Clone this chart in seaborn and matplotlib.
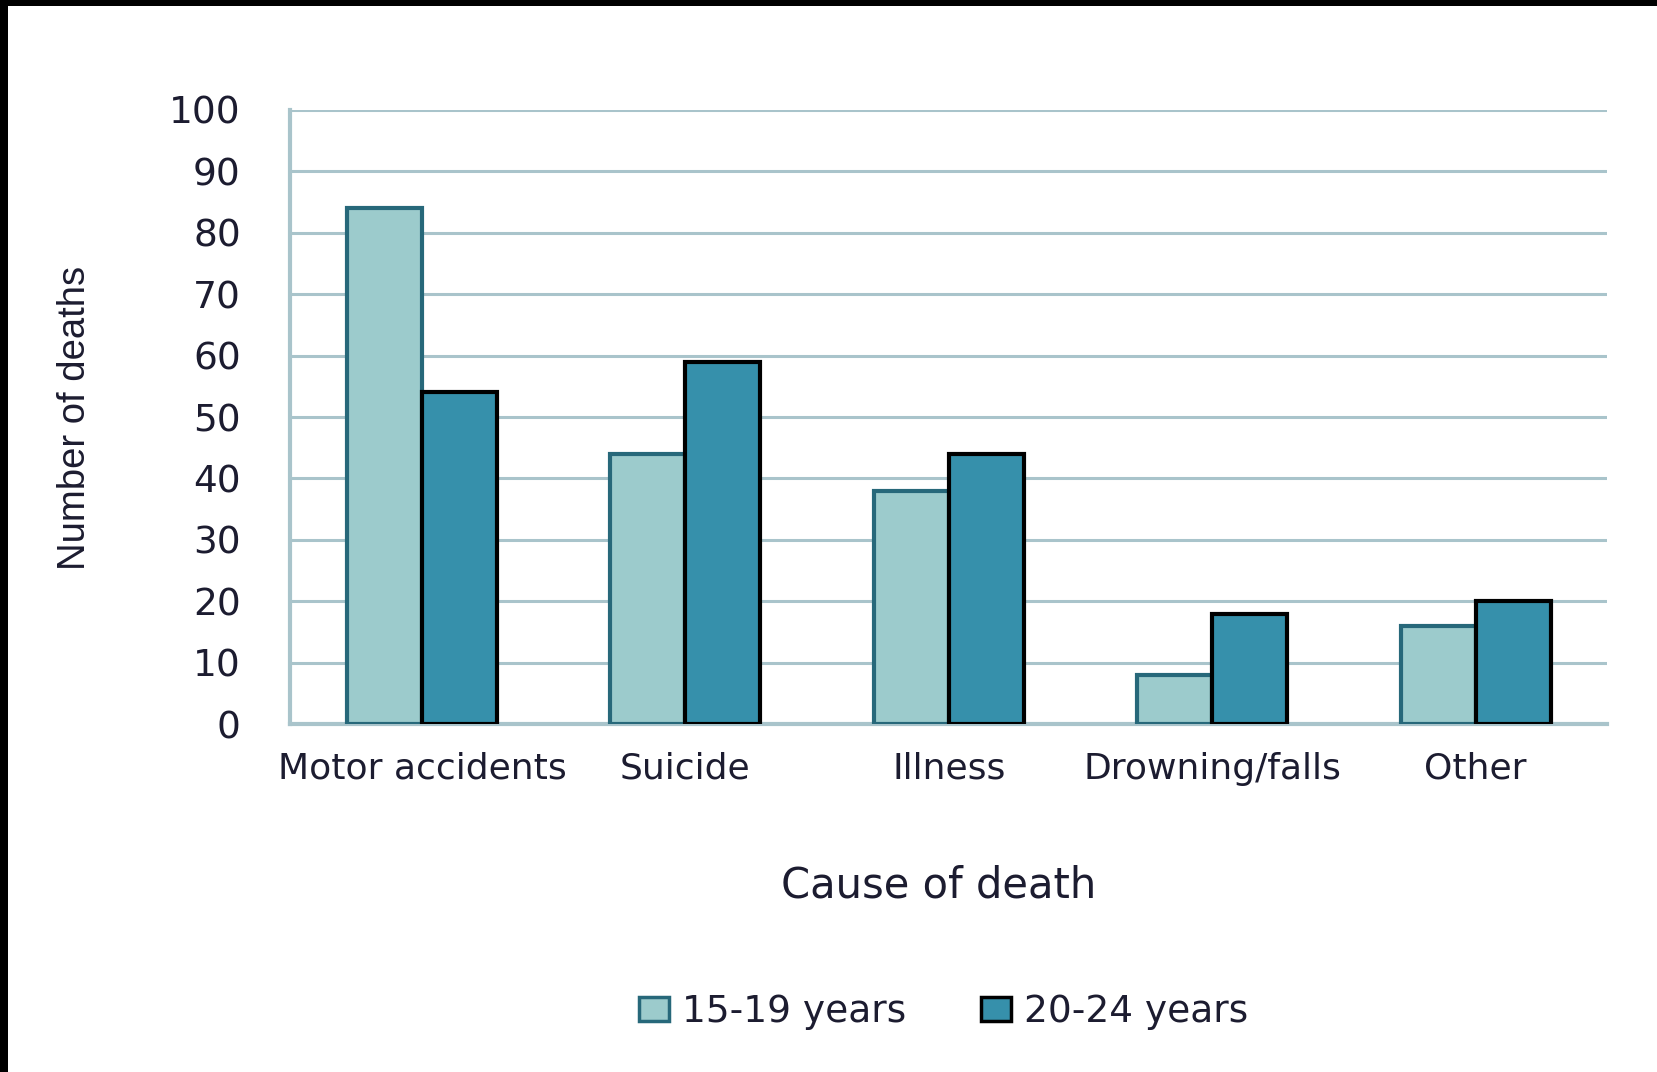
import pandas as pd
import numpy as np
import matplotlib
matplotlib.use('Agg')
import matplotlib.pyplot as plt
import seaborn as sns
from matplotlib.patches import Rectangle

# --- DATA ---
causes = ['Motor accidents', 'Suicide', 'Illness', 'Drowning/falls', 'Other']
deaths_15_19 = [84, 44, 38, 8, 16]
deaths_20_24 = [54, 59, 44, 18, 20]
groups = ['15-19 years', '20-24 years']
y_ticks = list(range(0, 101, 10))

df = pd.DataFrame({
    'Cause': causes * 2,
    'Group': [groups[0]] * len(causes) + [groups[1]] * len(causes),
    'Deaths': deaths_15_19 + deaths_20_24,
})

# --- STYLE ---
sns.set_style('white')
plt.rcParams['font.family'] = ['DejaVu Sans']
text_col = '#1c1c30'
grid_col = '#A9C4CB'
fill_cols = ['#9CCBCC', '#3690AB']
edge_cols = ['#27687A', '#000000']

fig = plt.figure(figsize=(16.58, 10.72), dpi=100)
ax = fig.add_axes([0.175, 0.3246, 0.7945, 0.5728])

sns.barplot(data=df, x='Cause', y='Deaths', hue='Group', palette=fill_cols,
            width=0.57, saturation=1, ax=ax, legend=False)

for cont, ec in zip(ax.containers, edge_cols):
    for bar in cont:
        bar.set_edgecolor(ec)
        bar.set_linewidth(3.0)
        bar.set_zorder(3)

ax.set_xlim(-0.5, len(causes) - 0.5)
ax.set_ylim(0, 100)
ax.set_yticks(y_ticks)
ax.yaxis.grid(True, color=grid_col, linewidth=2.2, zorder=0)
ax.set_axisbelow(True)

for s in ['top', 'right']:
    ax.spines[s].set_visible(False)
for s in ['left', 'bottom']:
    ax.spines[s].set_color(grid_col)
    ax.spines[s].set_linewidth(3.0)

# x ticks sit on category boundaries, labels centred under the groups
ax.set_xticks(np.arange(-0.5, len(causes), 1.0))
ax.set_xticklabels([''] * (len(causes) + 1))
ax.set_xticks(range(len(causes)), minor=True)
ax.set_xticklabels(causes, minor=True, fontsize=26, color=text_col)
ax.tick_params(axis='x', which='major', length=6.5, width=3, color=grid_col, direction='out')
ax.tick_params(axis='x', which='minor', length=0, pad=20)
ax.tick_params(axis='y', length=13.5, width=2.2, color=grid_col, pad=22,
               labelsize=27, labelcolor=text_col)

ax.set_xlabel('')
ax.set_ylabel('')
fig.text(0.566, 0.174, 'Cause of death', ha='center', va='center',
         fontsize=30, color=text_col)
fig.text(0.045, 0.61, 'Number of deaths', ha='center', va='center', rotation=90,
         fontsize=27.5, color=text_col,
         family=['Liberation Sans Narrow', 'Liberation Sans', 'DejaVu Sans'])

# legend
handles = [Rectangle((0, 0), 1, 1, facecolor=fc, edgecolor=ec, linewidth=2.5)
           for fc, ec in zip(fill_cols, edge_cols)]
fig.legend(handles, groups, loc='center', bbox_to_anchor=(0.569, 0.056), ncol=2,
           frameon=False, fontsize=27, labelcolor=text_col,
           handlelength=0.8, handleheight=0.6, handletextpad=0.35, columnspacing=2.0)

# black border on top and left edges, as in the source image
fig.patches.append(Rectangle((0, 1 - 6 / 1072), 1, 6 / 1072, transform=fig.transFigure,
                             facecolor='black', edgecolor='none', zorder=10))
fig.patches.append(Rectangle((0, 0), 8 / 1658, 1, transform=fig.transFigure,
                             facecolor='black', edgecolor='none', zorder=10))

fig.savefig('out.png', dpi=100)
